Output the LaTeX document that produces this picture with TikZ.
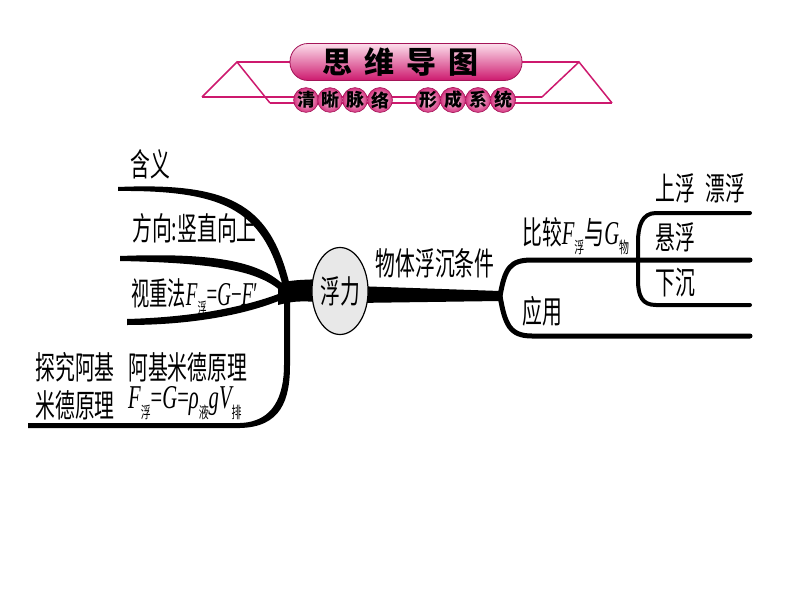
\documentclass[tikz,border=0pt]{standalone}
\usepackage{fontspec}
\setmainfont{Noto Sans CJK SC}
\newfontfamily\tms[Scale=1.04]{Liberation Serif}
\usepackage{graphicx}
\usetikzlibrary{calc,shapes.geometric}

\definecolor{rose}{RGB}{205,25,110}
\definecolor{roselight}{RGB}{250,200,222}
\newcommand\slim[1]{\scalebox{0.62}[1]{#1}}
\newcommand\sbs[1]{\raisebox{-0.3em}{\fontsize{16}{16}\selectfont #1}}
\newcommand\qnt[2]{{\tms\itshape #1}\sbs{#2}}

\tikzset{
  lbl/.style={font=\fontsize{32}{38}\selectfont,inner sep=0pt},
  hline/.style={rose,line width=1.5pt},
  bead/.style={circle,draw=rose!80!black,line width=0.6pt,inner color=roselight!70!white,
    outer color=rose!85!roselight,minimum size=24pt,inner sep=0pt,
    font=\fontsize{18}{18}\selectfont\bfseries},
  limb/.style={line width=5pt,line cap=round}
}

\begin{document}
\begin{tikzpicture}[x=1pt,y=-1pt]
\useasboundingbox[fill=white] (0,0) rectangle (794,596);

% header
\draw[hline] (237,62) -- (579,62);
\draw[hline] (202,97) -- (237,62) -- (270,103);
\draw[hline] (612,103) -- (579,62) -- (542,97);
\draw[hline] (202,97) -- (542,97);
\draw[hline] (270,103) -- (612,103);
\node[draw=rose!80!black,line width=0.8pt,rounded corners=18pt,minimum width=232pt,
  minimum height=37pt,top color=roselight!60!white,middle color=rose!75!roselight,
  bottom color=rose] (banner) at (406,62) {};
\node[font=\fontsize{30}{30}\selectfont\bfseries] (title) at (400,62)
  {思\hspace{12pt}维\hspace{12pt}导\hspace{12pt}图};
\foreach \ch/\x [count=\i] in {清/306,晰/330,脉/355,络/380,形/428,成/453,系/478,统/503}
  \node[bead] (b\i) at (\x,100) {\ch};

\coordinate (jl) at (287,292);
\coordinate (jr) at (500,296);

% left side
\fill (118,187) .. controls (235,182) and (272,207) .. (291,290)
  -- (284,291) .. controls (265,213) and (230,190) .. (118,191) -- cycle;
\fill (120,256) .. controls (225,252) and (268,264) .. (290,292)
  -- (284,294) .. controls (262,272) and (222,263) .. (120,261) -- cycle;
\fill (127,325) .. controls (200,325) and (255,312) .. (288,297)
  -- (286,291) .. controls (252,305) and (200,317) .. (127,319) -- cycle;
\fill (28,428) -- (240,428) .. controls (281,427) and (290,400) .. (290,365)
  -- (290,296) -- (284,296) -- (284,365) .. controls (284,395) and (274,422) .. (240,423)
  -- (28,423) -- cycle;
\fill (278,283) .. controls (295,280) .. (325,279) -- (325,302)
  .. controls (295,301) .. (278,305) -- cycle;

% right side
\fill (355,286) -- (500,291) -- (500,301) -- (355,303) -- cycle;
\draw[limb] (jr) .. controls (505,268) and (510,260) .. (532,260) -- (750,260);
\draw[limb] (jr) .. controls (505,325) and (510,336) .. (532,336) -- (750,336);
\draw[line width=4pt,line cap=round] (750,213) -- (656,213)
  .. controls (642,213) and (638,226) .. (638,242) -- (638,280)
  .. controls (638,296) and (642,305) .. (656,305) -- (750,305);

\node[lbl,ellipse,draw,line width=1.2pt,fill=gray!18,minimum width=45pt,
  minimum height=87pt] (fuli) at (340,291) {\slim{浮力}};

% labels
\node[lbl,anchor=west] (hanyi) at (130,164) {\slim{含义}};
\node[lbl,anchor=west] (fangxiang) at (132,228) {\slim{方向:竖直向上}};
\node[lbl,anchor=west] (shizhong) at (131,297)
  {\scalebox{0.57}[1]{视重法\qnt{F}{浮}{\tms=\textit{G}−\textit{F}′}}};
\node[lbl,align=center] (tanjiu) at (75,386) {\slim{探究阿基}\\\slim{米德原理}};
\node[lbl,anchor=west] (yuanli) at (128,367) {\slim{阿基米德原理}};
\node[lbl,anchor=west] (gongshi) at (128,403)
  {\slim{\qnt{F}{浮}{\tms=\textit{G}=}\qnt{ρ}{液}{\tms\itshape g}\qnt{V}{排}}};
\node[lbl] (fuchen) at (435,263) {\slim{物体浮沉条件}};
\node[lbl,anchor=west] (bijiao) at (522,236) {\slim{比较\qnt{F}{浮}与\qnt{G}{物}}};
\node[lbl,anchor=west] (yingyong) at (522,311) {\slim{应用}};
\node[lbl,anchor=west] (shangfu) at (655,188) {\slim{上浮}\hspace{11pt}\slim{漂浮}};
\node[lbl,anchor=west] (xuanfu) at (655,237) {\slim{悬浮}};
\node[lbl,anchor=west] (xiachen) at (655,283) {\slim{下沉}};
\end{tikzpicture}
\end{document}
